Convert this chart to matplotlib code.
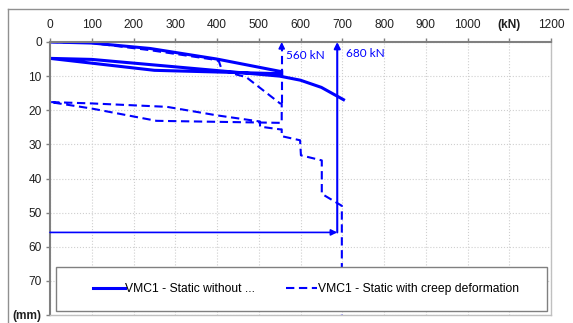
import matplotlib
matplotlib.use("Agg")
import matplotlib.pyplot as plt
from matplotlib.lines import Line2D
from matplotlib.patches import Rectangle

plt.rcParams['font.family'] = ['Liberation Sans', 'DejaVu Sans']

# static test without creep: load, unload, reload (kN, mm)
static_kn = [0, 100, 240, 400, 555, 555, 250, 0, 100, 550, 600, 650, 703]
static_mm = [0, 0.3, 1.9, 5.0, 8.7, 9.3, 8.3, 4.8, 5.1, 10.0, 11.2, 13.3, 16.9]

# static test with creep deformation
creep_kn = [0, 100, 240, 400, 405, 412, 470, 551, 555, 555, 255, 100, 0,
            100, 280, 400, 503, 503, 551, 555, 555, 599, 601, 651, 651, 699, 699, 699]
creep_mm = [0, 0.3, 2.4, 5.3, 5.8, 8.4, 10.3, 18.0, 18.0, 23.7, 23.1, 19.5, 17.6,
            18.0, 19.0, 21.5, 23.3, 24.8, 25.6, 25.6, 27.6, 28.8, 33.2, 34.7, 44.5, 48.0, 48.0, 80.0]

x_ticks = [0, 100, 200, 300, 400, 500, 600, 700, 800, 900, 1000, 1100, 1200]
x_labels = ['0', '100', '200', '300', '400', '500', '600', '700', '800', '900', '1000', '(kN)', '1200']
y_ticks = [0, 10, 20, 30, 40, 50, 60, 70, 80]
y_labels = ['0', '10', '20', '30', '40', '50', '60', '70', '(mm)']

# annotation arrows
load_560 = 555
load_680 = 688
arrow_y = 55.8

blue = '#0000ff'
dash = (0, (4, 2.2))

fig = plt.figure(figsize=(5.73, 3.23), dpi=100)
ax = fig.add_axes([50/573, 1-315/323, 501/573, 273/323])

ax.plot(static_kn, static_mm, color=blue, lw=2.2, solid_joinstyle='miter',
        label='VMC1 - Static without ...')
ax.plot(creep_kn, creep_mm, color=blue, lw=1.5, ls=dash,
        label='VMC1 - Static with creep deformation')

# 560 kN dashed arrow
ax.plot([load_560, load_560], [18, 1.5], color=blue, lw=1.5, ls=dash)
ax.annotate('', xy=(load_560, 0), xytext=(load_560, 1.8),
            arrowprops=dict(arrowstyle='-|>', color=blue, lw=1.2,
                            mutation_scale=9, shrinkA=0, shrinkB=0))
ax.text(load_560 + 10, 4.0, '560 kN', color=blue, fontsize=8.5, family='Lato',
        va='center', ha='left')

# 680 kN solid arrows
ax.annotate('', xy=(load_680, 0), xytext=(load_680, arrow_y),
            arrowprops=dict(arrowstyle='-|>', color=blue, lw=1.5,
                            mutation_scale=9, shrinkA=0, shrinkB=0))
ax.annotate('', xy=(load_680, arrow_y), xytext=(0, arrow_y),
            arrowprops=dict(arrowstyle='-|>', color=blue, lw=1.2,
                            mutation_scale=9, shrinkA=0, shrinkB=0))
ax.text(load_680 + 20, 3.3, '680 kN', color=blue, fontsize=8.5, family='Lato',
        va='center', ha='left')

ax.set_xlim(0, 1200)
ax.set_ylim(80, 0)
ax.xaxis.tick_top()
ax.set_xticks(x_ticks)
ax.set_xticklabels(x_labels)
ax.set_yticks(y_ticks)
ax.set_yticklabels(y_labels)
for lab in ax.get_xticklabels():
    if lab.get_text() == '(kN)':
        lab.set_fontweight('bold')
for lab in ax.get_yticklabels():
    if lab.get_text() == '(mm)':
        lab.set_fontweight('bold')
ax.tick_params(axis='both', labelsize=8.6, length=3, width=1, color='#808080',
               direction='out', labelcolor='#202020')
ax.tick_params(axis='x', pad=5)
ax.tick_params(axis='y', pad=3)
ax.grid(True, color='#cfcfcf', ls=':', lw=0.8)
ax.set_axisbelow(True)

for side in ['top', 'left']:
    ax.spines[side].set_color('#808080')
    ax.spines[side].set_linewidth(1.5)
for side in ['bottom', 'right']:
    ax.spines[side].set_color('#c0c0c0')
    ax.spines[side].set_linewidth(1)

# legend frame box, then the legend entries centred in it
box_x0, box_x1 = (56-50)/501, (547-50)/501
box_y0, box_y1 = (315-311)/273, (315-267)/273
ax.add_patch(Rectangle((box_x0, box_y0), box_x1-box_x0, box_y1-box_y0,
                       transform=ax.transAxes, facecolor='white',
                       edgecolor='#808080', lw=1, zorder=4))
leg = ax.legend(loc='center', bbox_to_anchor=((box_x0+box_x1)/2+0.009, (box_y0+box_y1)/2),
                ncol=2, fontsize=8.7, frameon=False, handlelength=2.6,
                handletextpad=0.05, columnspacing=2.5, borderaxespad=0)
leg.set_zorder(5)

# outer chart frame
fig.add_artist(Line2D([8/573, 568/573], [1-9/323, 1-9/323], color='#909090', lw=1))
fig.add_artist(Line2D([8/573, 8/573], [1-9/323, 0], color='#909090', lw=1))

fig.savefig('out.png', dpi=100)
plt.close(fig)
